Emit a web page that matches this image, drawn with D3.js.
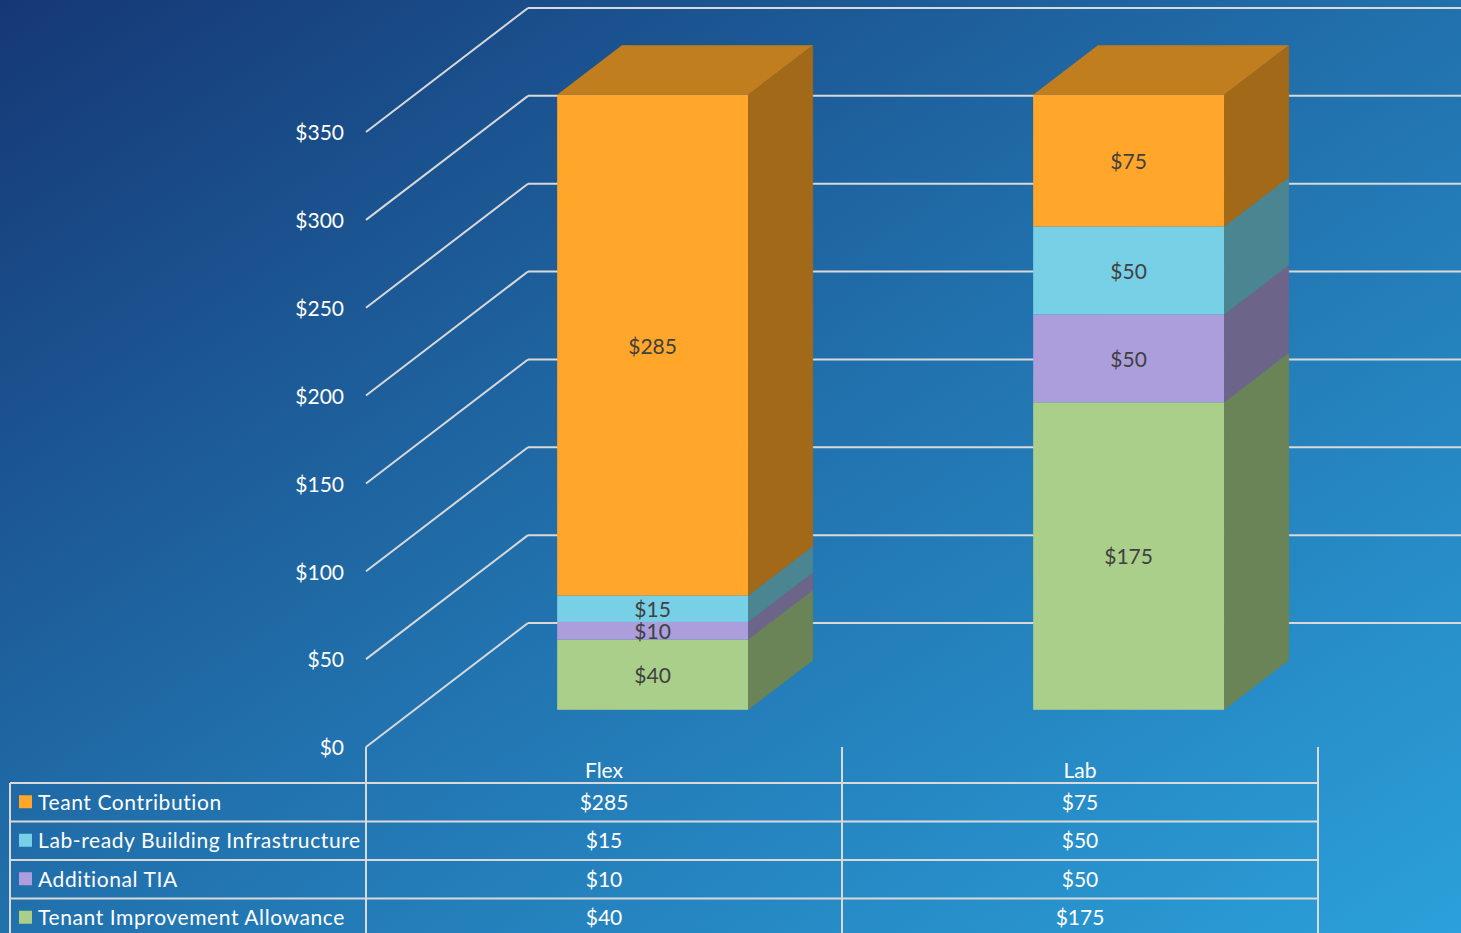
<!DOCTYPE html>
<html>
<head>
<meta charset="utf-8">
<script src="https://cdn.jsdelivr.net/npm/d3@7"></script>
<style>
  body { margin: 0; padding: 0; overflow: hidden; }
  svg { display: block; font-family: Lato, "Open Sans", sans-serif; }
</style>
</head>
<body>
<svg id="chart" width="1461" height="933"></svg>
<script>
var categories = ["Flex", "Lab"]
// stack order, bottom to top
var seriesNames = ["Tenant Improvement Allowance", "Additional TIA", "Lab-ready Building Infrastructure", "Teant Contribution"]
var tenantImprovement = [40, 175]
var additionalTIA = [10, 50]
var labReady = [15, 50]
var teantContribution = [285, 75]
var yTicks = [0, 50, 100, 150, 200, 250, 300, 350]

var frontColors = ["#aacf8b", "#ac9ddc", "#78d0e6", "#ffa62b"]
var sideColors = ["#6a8458", "#6d6589", "#4b8591", "#a26a18"]
var topColors = ["#8aa870", "#8a7fb2", "#5fa8ba", "#c07e1e"]

var width = 1461
var height = 933
var plot = { left: 366, right: 1318, top: 132, bottom: 747 }
var depth = { dx: 162, dy: -124 }
var barDepth = [0.3, 0.7]
var table = { top: 783, rowH: 38.5, left: 10 }

var svg = d3.select("#chart")

// 背景渐变
var defs = svg.append("defs")
var grad = defs.append("linearGradient")
    .attr("id", "bg")
    .attr("x1", 0).attr("y1", 0).attr("x2", 1).attr("y2", 1)
grad.append("stop").attr("offset", "0%").attr("stop-color", "#153875")
grad.append("stop").attr("offset", "50%").attr("stop-color", "#2171ad")
grad.append("stop").attr("offset", "100%").attr("stop-color", "#2ba0da")
svg.append("rect").attr("width", width).attr("height", height).attr("fill", "url(#bg)")

var seriesValues = [tenantImprovement, additionalTIA, labReady, teantContribution]
var dataset = categories.map(function (c, i) {
    var row = { category: c }
    seriesNames.forEach(function (s, j) { row[s] = seriesValues[j][i] })
    return row
})
var stacked = d3.stack().keys(seriesNames)(dataset)

var xScale = d3.scaleBand()
    .domain(categories)
    .range([plot.left, plot.right])
    .paddingInner(0)
    .paddingOuter(0)
var yScale = d3.scaleLinear()
    .domain([0, 350])
    .range([plot.bottom, plot.top])

var barW = xScale.bandwidth() * 0.401
var lineColor = "#d9d9d9"

// 网格线 (back wall + floor diagonals)
var grid = svg.append("g")
yTicks.forEach(function (t) {
    var y0 = yScale(t)
    grid.append("line")
        .attr("x1", plot.left).attr("y1", y0)
        .attr("x2", plot.left + depth.dx).attr("y2", y0 + depth.dy)
        .attr("stroke", lineColor).attr("stroke-width", 2)
    grid.append("line")
        .attr("x1", plot.left + depth.dx).attr("y1", y0 + depth.dy)
        .attr("x2", width).attr("y2", y0 + depth.dy)
        .attr("stroke", lineColor).attr("stroke-width", 2)
})

// y轴标签
svg.append("g").selectAll("text")
    .data(yTicks)
    .enter().append("text")
    .attr("x", plot.left - 22)
    .attr("y", function (d) { return yScale(d) + 1 })
    .attr("dy", "0.35em")
    .attr("text-anchor", "end")
    .attr("fill", "#ffffff")
    .attr("font-size", 21)
    .text(function (d) { return "$" + d })

// bars
var bars = svg.append("g")
var fx = barDepth[0] * depth.dx, fy = barDepth[0] * depth.dy
var sx = (barDepth[1] - barDepth[0]) * depth.dx, sy = (barDepth[1] - barDepth[0]) * depth.dy

function pts(arr) { return arr.map(function (p) { return p.join(",") }).join(" ") }

categories.forEach(function (c, ci) {
    var x0 = xScale(c) + xScale.bandwidth() / 2 - barW / 2 + fx
    var x1 = x0 + barW
    stacked.forEach(function (layer, li) {
        var d = layer[ci]
        var yb = yScale(d[0]) + fy
        var yt = yScale(d[1]) + fy
        bars.append("polygon")
            .attr("points", pts([[x1, yb], [x1, yt], [x1 + sx, yt + sy], [x1 + sx, yb + sy]]))
            .attr("fill", sideColors[li])
            .attr("stroke", sideColors[li]).attr("stroke-width", 0.5)
        bars.append("rect")
            .attr("x", x0).attr("y", yt)
            .attr("width", barW).attr("height", yb - yt)
            .attr("fill", frontColors[li])
        if (li == stacked.length - 1) {
            bars.append("polygon")
                .attr("points", pts([[x0, yt], [x1, yt], [x1 + sx, yt + sy], [x0 + sx, yt + sy]]))
                .attr("fill", topColors[li])
        }
        bars.append("text")
            .attr("x", x0 + barW / 2)
            .attr("y", (yb + yt) / 2 + 1)
            .attr("dy", "0.35em")
            .attr("text-anchor", "middle")
            .attr("fill", "#404040")
            .attr("font-size", 21)
            .text("$" + (d[1] - d[0]))
    })
})

// 数据表
var tbl = svg.append("g")
var rowsOrder = seriesNames.slice().reverse()
var nRows = rowsOrder.length
var tBottom = table.top + table.rowH * nRows
var cols = [plot.left].concat(categories.map(function (c) { return xScale(c) + xScale.bandwidth() }))
cols.forEach(function (x) {
    tbl.append("line")
        .attr("x1", x).attr("y1", plot.bottom)
        .attr("x2", x).attr("y2", tBottom)
        .attr("stroke", lineColor).attr("stroke-width", 2)
})
tbl.append("line")
    .attr("x1", table.left).attr("y1", table.top)
    .attr("x2", table.left).attr("y2", tBottom)
    .attr("stroke", lineColor).attr("stroke-width", 2)
d3.range(nRows + 1).forEach(function (r) {
    var y = table.top + r * table.rowH
    tbl.append("line")
        .attr("x1", table.left).attr("y1", y)
        .attr("x2", plot.right).attr("y2", y)
        .attr("stroke", lineColor).attr("stroke-width", 2)
})

// 表头
categories.forEach(function (c) {
    tbl.append("text")
        .attr("x", xScale(c) + xScale.bandwidth() / 2)
        .attr("y", (plot.bottom + table.top) / 2 + 6)
        .attr("dy", "0.35em")
        .attr("text-anchor", "middle")
        .attr("fill", "#ffffff")
        .attr("font-size", 21)
        .text(c)
})

rowsOrder.forEach(function (s, r) {
    var li = seriesNames.indexOf(s)
    var yc = table.top + r * table.rowH + table.rowH / 2
    tbl.append("rect")
        .attr("x", 19).attr("y", yc - 7)
        .attr("width", 13).attr("height", 13)
        .attr("fill", frontColors[li])
    tbl.append("text")
        .attr("x", 38).attr("y", yc)
        .attr("dy", "0.35em")
        .attr("fill", "#ffffff")
        .attr("font-size", 21)
        .attr("letter-spacing", 0.6)
        .text(s)
    categories.forEach(function (c, ci) {
        tbl.append("text")
            .attr("x", xScale(c) + xScale.bandwidth() / 2)
            .attr("y", yc)
            .attr("dy", "0.35em")
            .attr("text-anchor", "middle")
            .attr("fill", "#ffffff")
            .attr("font-size", 21)
            .text("$" + seriesValues[li][ci])
    })
})
</script>
</body>
</html>
